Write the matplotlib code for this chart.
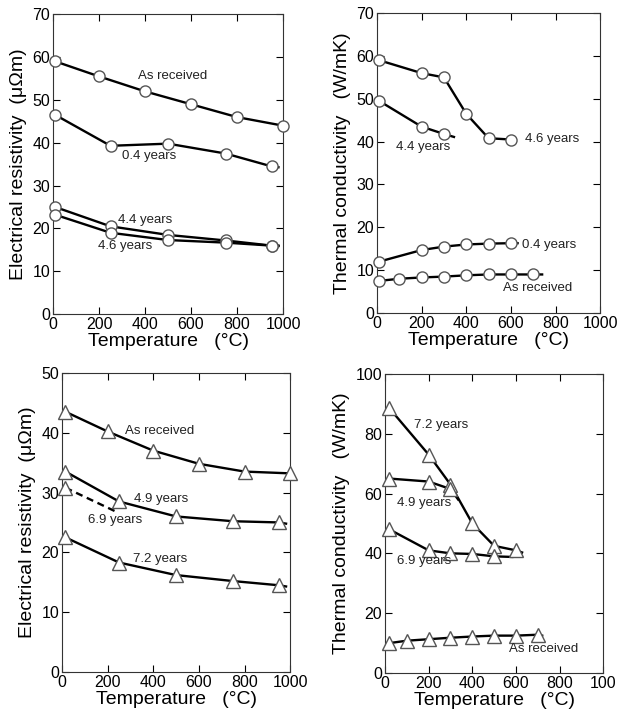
import matplotlib
matplotlib.use("Agg")
import matplotlib.pyplot as plt

plt.rcParams["font.family"] = ["Liberation Sans", "DejaVu Sans"]

# ---------------------------------------------------------------------------
# Data (temperature in degC)
# Each series: measured points, plus where the drawn line ends (tail) if it
# runs past the last marker.
# ---------------------------------------------------------------------------
# top left: electrical resistivity, circles
TL_AR_T = [10, 200, 400, 600, 800, 1000]
TL_AR_V = [59, 55.5, 52, 49, 46, 44]
TL_04_T = [10, 250, 500, 750, 950]
TL_04_V = [46.5, 39.3, 39.8, 37.5, 34.5]
TL_04_TAIL = (980, 34.3)
TL_44_T = [10, 250, 500, 750, 950]
TL_44_V = [25, 20.5, 18.5, 17.2, 16]
TL_44_TAIL = (980, 16)
TL_46_T = [10, 250, 500, 750, 950]
TL_46_V = [23.2, 19, 17.3, 16.7, 16]
TL_46_TAIL = (980, 15.9)

# top right: thermal conductivity, circles
TR_46_T = [10, 200, 300, 400, 500, 600]
TR_46_V = [59, 56, 55, 46.5, 40.8, 40.5]
TR_44_T = [10, 200, 300]
TR_44_V = [49.5, 43.5, 41.8]
TR_44_TAIL = (345, 41.1)
TR_04_T = [10, 200, 300, 400, 500, 600]
TR_04_V = [12, 14.7, 15.5, 16, 16.2, 16.3]
TR_04_TAIL = (630, 16.3)
TR_AR_T = [10, 100, 200, 300, 400, 500, 600, 700]
TR_AR_V = [7.5, 8, 8.3, 8.5, 8.8, 9, 9, 9]
TR_AR_TAIL = (740, 9)

# bottom left: electrical resistivity, triangles
BL_AR_T = [15, 200, 400, 600, 800, 1000]
BL_AR_V = [43.5, 40.2, 37, 34.8, 33.5, 33.2]
BL_49_T = [15, 250, 500, 750, 950]
BL_49_V = [33.5, 28.5, 26, 25.2, 25]
BL_49_TAIL = (982, 24.8)
BL_69_T = [15]
BL_69_V = [30.8]
BL_69_TAIL = (248, 26.6)
BL_72_T = [15, 250, 500, 750, 950]
BL_72_V = [22.5, 18.3, 16.2, 15.2, 14.5]
BL_72_TAIL = (982, 14.3)

# bottom right: thermal conductivity, triangles
BR_72_T = [20, 200, 300, 400, 500, 600]
BR_72_V = [88.5, 73, 63, 50, 42.5, 41]
BR_72_TAIL = (628, 40.3)
BR_49_T = [20, 200, 300]
BR_49_V = [65, 64, 61.5]
BR_49_TAIL = (335, 58)
BR_69_T = [20, 200, 300, 400, 500]
BR_69_V = [48, 41, 40, 39.8, 39]
BR_69_TAIL = (583, 38.8)
BR_AR_T = [20, 100, 200, 300, 400, 500, 600, 700]
BR_AR_V = [10, 10.8, 11.3, 11.8, 12.2, 12.5, 12.5, 12.8]
BR_AR_TAIL = (720, 12.5)

X_TICKS = [0, 200, 400, 600, 800, 1000]
X_TICKLABELS = ["0", "200", "400", "600", "800", "1000"]
X_TICKLABELS_BR = ["0", "200", "400", "600", "800", "100"]

XLABEL = "Temperature   (\u00b0C)"
RHO_LABEL = "Electrical resistivity  (\u03bc\u03a9m)"
K_LABEL = "Thermal conductivity   (W/mK)"


def series(ax, t, v, marker, tail=None, ls="-"):
    xs, ys = list(t), list(v)
    if tail is not None:
        xs.append(tail[0])
        ys.append(tail[1])
    ax.plot(xs, ys, color="black", lw=1.7, ls=ls, zorder=2)
    ax.plot(t, v, ls="none", marker=marker, ms=8 if marker == "o" else 9.5,
            mfc="white", mec="#555555", mew=1.0, zorder=3, clip_on=False)


def style(ax, ymax, ystep, ylabel, xticklabels):
    ax.set_xlim(0, 1000)
    ax.set_ylim(0, ymax)
    ax.set_xticks(X_TICKS)
    ax.set_xticklabels(xticklabels)
    ax.set_yticks(range(0, ymax + 1, ystep))
    ax.tick_params(direction="in", top=True, right=True, length=5, width=0.8,
                   labelsize=11.5, pad=2)
    for s in ax.spines.values():
        s.set_linewidth(0.8)
        s.set_color("#333333")
    ax.set_xlabel(XLABEL, fontsize=14, labelpad=1)
    ax.set_ylabel(ylabel, fontsize=14, labelpad=4)


def label(ax, x, y, s):
    ax.text(x, y, s, ha="center", va="center", fontsize=9.5, color="#222222")


fig = plt.figure(figsize=(6.2, 7.14), dpi=100)

# top left
ax = fig.add_axes([0.0855, 0.560, 0.371, 0.420])
series(ax, TL_AR_T, TL_AR_V, "o")
series(ax, TL_04_T, TL_04_V, "o", TL_04_TAIL)
series(ax, TL_44_T, TL_44_V, "o", TL_44_TAIL)
series(ax, TL_46_T, TL_46_V, "o", TL_46_TAIL)
label(ax, 520, 55.5, "As received")
label(ax, 420, 36.9, "0.4 years")
label(ax, 400, 21.9, "4.4 years")
label(ax, 313, 15.9, "4.6 years")
style(ax, 70, 10, RHO_LABEL, X_TICKLABELS)

# top right
ax = fig.add_axes([0.608, 0.5616, 0.360, 0.420])
series(ax, TR_46_T, TR_46_V, "o")
series(ax, TR_44_T, TR_44_V, "o", TR_44_TAIL)
series(ax, TR_04_T, TR_04_V, "o", TR_04_TAIL)
series(ax, TR_AR_T, TR_AR_V, "o", TR_AR_TAIL)
label(ax, 207, 38.7, "4.4 years")
label(ax, 784, 40.6, "4.6 years")
label(ax, 770, 15.9, "0.4 years")
label(ax, 718, 5.8, "As received")
style(ax, 70, 10, K_LABEL, X_TICKLABELS)

# bottom left
ax = fig.add_axes([0.100, 0.0588, 0.368, 0.419])
series(ax, BL_AR_T, BL_AR_V, "^")
series(ax, BL_49_T, BL_49_V, "^", BL_49_TAIL)
series(ax, BL_69_T, BL_69_V, "^", BL_69_TAIL, ls=(0, (3, 2)))
series(ax, BL_72_T, BL_72_V, "^", BL_72_TAIL)
label(ax, 428, 40.3, "As received")
label(ax, 434, 28.9, "4.9 years")
label(ax, 235, 25.4, "6.9 years")
label(ax, 430, 18.9, "7.2 years")
style(ax, 50, 10, RHO_LABEL, X_TICKLABELS)

# bottom right
ax = fig.add_axes([0.621, 0.0574, 0.352, 0.419])
series(ax, BR_72_T, BR_72_V, "^", BR_72_TAIL)
series(ax, BR_49_T, BR_49_V, "^", BR_49_TAIL)
series(ax, BR_69_T, BR_69_V, "^", BR_69_TAIL)
series(ax, BR_AR_T, BR_AR_V, "^", BR_AR_TAIL)
label(ax, 255, 82.9, "7.2 years")
label(ax, 179, 56.8, "4.9 years")
label(ax, 179, 37.5, "6.9 years")
label(ax, 729, 8, "As received")
style(ax, 100, 20, K_LABEL, X_TICKLABELS_BR)

fig.savefig("out.png", dpi=100)
